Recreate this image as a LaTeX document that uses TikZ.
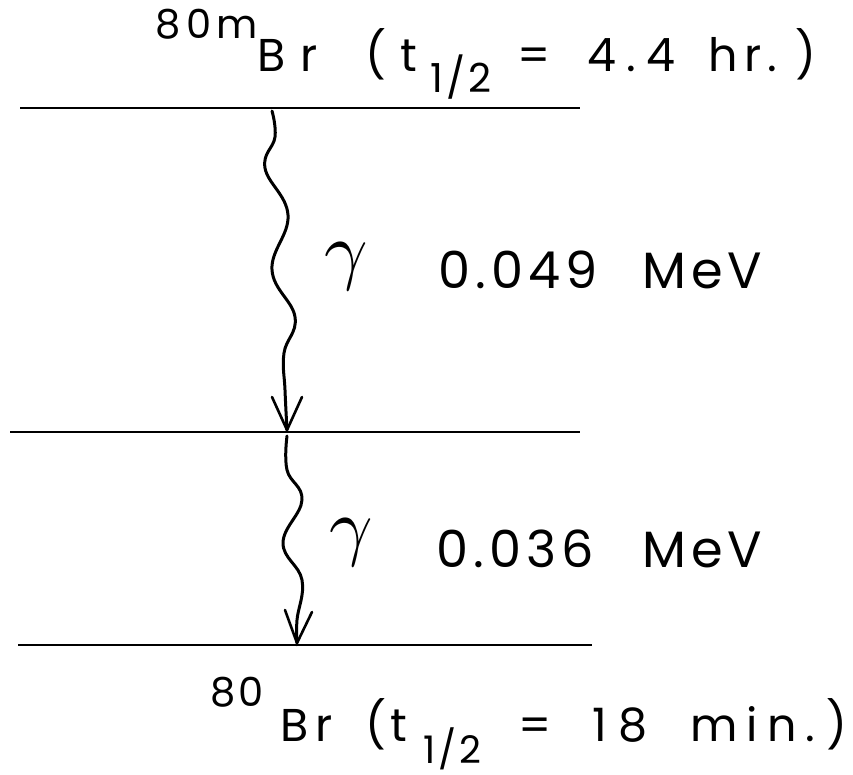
\documentclass[tikz,border=0pt]{standalone}
\usepackage{fontspec}
\newfontfamily\lblA{Poppins}[LetterSpace=8]
\newfontfamily\lblB{Poppins}[LetterSpace=10]
\newcommand{\wide}[2]{{\addfontfeature{LetterSpace=#1}#2}}
\begin{document}
\begin{tikzpicture}[x=1pt,y=-1pt,
  level/.style={line width=2.6pt, line cap=butt},
  wave/.style={line width=3pt, line cap=round, line join=round},
  barb/.style={line width=2.6pt, line cap=round, line join=miter},
  title/.style={anchor=base west, inner sep=0pt, font=\lblA\fontsize{46}{46}\selectfont},
  energy/.style={anchor=base west, inner sep=0pt, font=\lblB\fontsize{51}{51}\selectfont},
  gam/.style={inner sep=0pt, scale=7.6}]
\useasboundingbox (0,0) rectangle (853,775);
\fill[white] (0,0) rectangle (853,775);

% level lines
\coordinate (L1a) at (20,108);  \coordinate (L1b) at (580,108);
\coordinate (L2a) at (10,432);  \coordinate (L2b) at (580,432);
\coordinate (L3a) at (18,645);  \coordinate (L3b) at (592,645);
\draw[level] (L1a) -- (L1b);
\draw[level] (L2a) -- (L2b);
\draw[level] (L3a) -- (L3b);

% gamma transitions
\coordinate (A1s) at (272,111);
\coordinate (A1e) at (287,430);
\coordinate (A2s) at (287,436);
\coordinate (A2e) at (297,643);
\draw[wave] plot[smooth, tension=0.7] coordinates {(A1s) (275,137) (265,168) (288,215) (272,270) (295,317) (284,353) (285,390) (A1e)};
\draw[barb] ([shift={(-15,-33)}]A1e) -- (A1e) -- ([shift={(15,-33)}]A1e);
\draw[wave] plot[smooth, tension=0.7] coordinates {(A2s) (287,470) (302,500) (283,543) (302,580) (297,620) (A2e)};
\draw[barb] ([shift={(-12,-33)}]A2e) -- (A2e) -- ([shift={(15,-31)}]A2e);

% labels
\node[title] (top) at (155,72) {\makebox[102pt][l]{\raisebox{33pt}{\fontsize{40}{40}\selectfont\wide{14}{80m}}}\makebox[108pt][l]{\wide{34}{Br}}\makebox[35pt][l]{(}\makebox[30pt][l]{t}\makebox[87pt][l]{\raisebox{-21pt}{\fontsize{40}{40}\selectfont 1/2}}\makebox[70pt][l]{=}\makebox[121pt][l]{\wide{22}{4.4}}\makebox[87pt][l]{\wide{14}{hr.}})};
\node[title] (bot) at (210,741) {\makebox[70pt][l]{\raisebox{35pt}{\fontsize{40}{40}\selectfont 80}}\makebox[85pt][l]{\wide{16}{Br}}\makebox[25pt][l]{(}\makebox[33pt][l]{t}\makebox[95pt][l]{\raisebox{-22pt}{\fontsize{38}{38}\selectfont 1/2}}\makebox[74pt][l]{=}\makebox[98pt][l]{\wide{26}{18}}\makebox[136pt][l]{\wide{20}{min.}})};

\node[gam] (g1) at (346,267) {$\gamma$};
\node[gam] (g2) at (351,543) {$\gamma$};
\node[energy] (e1) at (438,288) {\makebox[204pt][l]{0.049}MeV};
\node[energy] (e2) at (436,567) {\makebox[206pt][l]{0.036}MeV};
\end{tikzpicture}
\end{document}
